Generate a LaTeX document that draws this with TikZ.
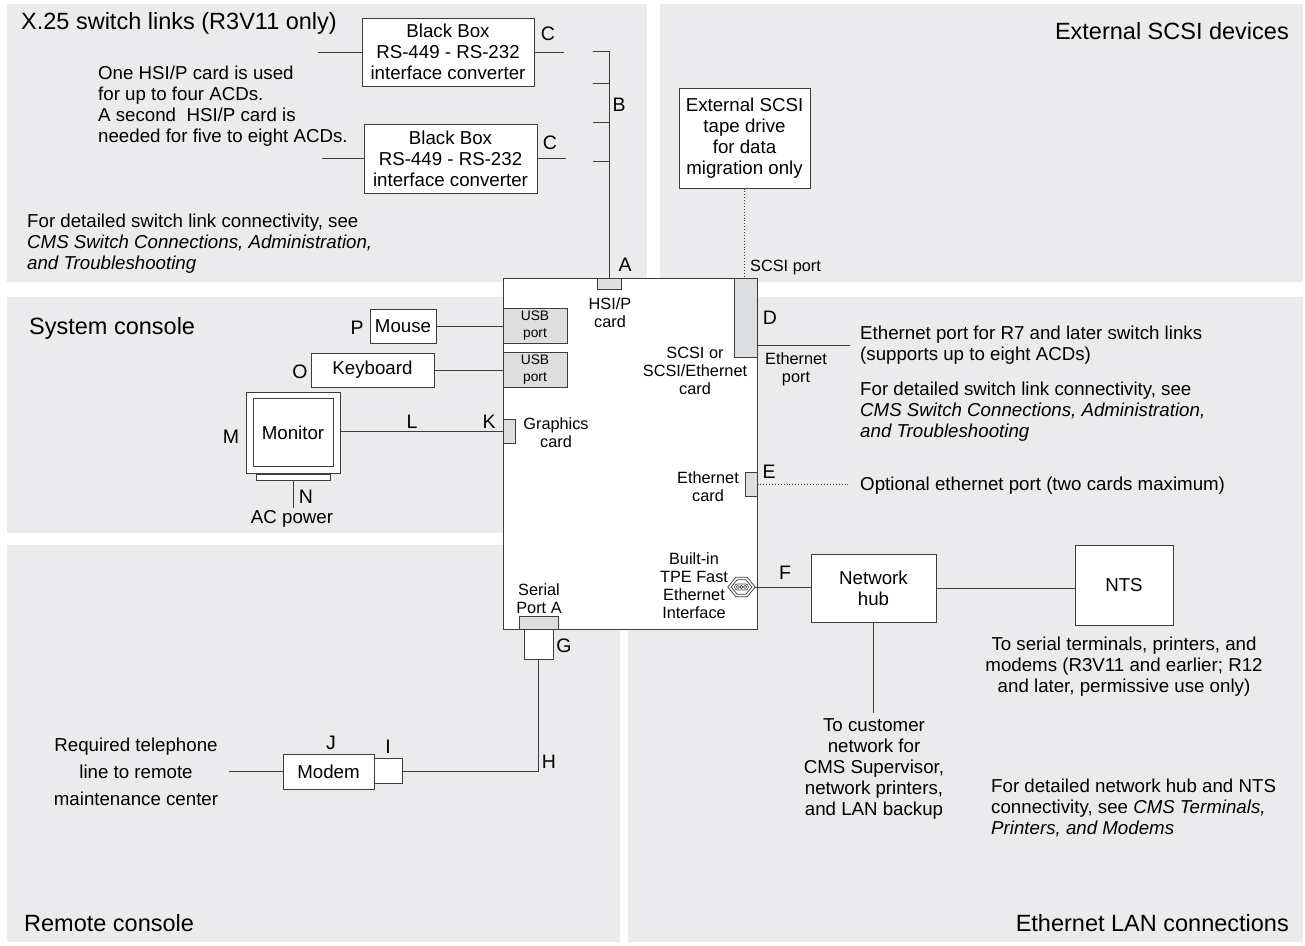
\documentclass[tikz,border=0pt]{standalone}
\usepackage{fontspec}
\setmainfont{Liberation Sans}
\usetikzlibrary{positioning}

\definecolor{panelgray}{RGB}{235,235,237}
\definecolor{portgray}{RGB}{221,222,224}
\definecolor{linegray}{RGB}{60,60,60}

\newcommand{\txttitle}{\fontsize{23.5}{26}\selectfont}
\newcommand{\txtbody}{\fontsize{18.7}{21}\selectfont}
\newcommand{\txtwide}{\fontsize{18.7}{27}\selectfont}
\newcommand{\txtsmall}{\fontsize{16.3}{18}\selectfont}
\newcommand{\txtusb}{\fontsize{13.8}{16.5}\selectfont}
\newcommand{\txtletter}{\fontsize{19.5}{22}\selectfont}

\tikzset{
  devbox/.style={draw=linegray, fill=white, line width=1pt, inner sep=0pt, align=center, font=\txtbody},
  port/.style={draw=linegray, fill=portgray, line width=1pt, inner sep=0pt, align=center, font=\txtusb},
  wire/.style={draw=linegray, line width=1pt},
  dotwire/.style={draw=linegray, line width=0.9pt, dotted},
  letter/.style={font=\txtletter, inner sep=0pt},
  note/.style={font=\txtbody, align=left, inner sep=0pt},
  cardlabel/.style={font=\txtsmall, align=center, inner sep=0pt},
  paneltitle/.style={font=\txttitle, inner sep=0pt}
}

\begin{document}
\begin{tikzpicture}[x=1pt, y=-1pt]
  \useasboundingbox (0,0) rectangle (1305,945);

  % background panels
  \fill[panelgray] (7,4) rectangle (647,282);
  \fill[panelgray] (660,4) rectangle (1303,282);
  \fill[panelgray] (7,297) rectangle (620,533);
  \fill[panelgray] (7,545) rectangle (620,942);
  \fill[panelgray] (628,297) rectangle (1303,942);

  \node[paneltitle, anchor=west] (t25) at (21,23) {X.25 switch links (R3V11 only)};
  \node[paneltitle, anchor=east] (tscsi) at (1289,31) {External SCSI devices};
  \node[paneltitle, anchor=west] (tsys) at (29,328) {System console};
  \node[paneltitle, anchor=west] (tremote) at (24,923) {Remote console};
  \node[paneltitle, anchor=east] (tlan) at (1289,923) {Ethernet LAN connections};

  % the CMS computer and its cards
  \node[devbox, minimum width=254, minimum height=351] (cms) at (630,453.5) {};
  \node[port, minimum width=24, minimum height=11] (hsip) at (609,283.5) {};
  \node[port, minimum width=64, minimum height=35] (usba) at (535,325.5) {USB\\port};
  \node[port, minimum width=64, minimum height=35] (usbb) at (535,369.5) {USB\\port};
  \node[port, minimum width=12, minimum height=24] (gfx) at (509,431) {};
  \node[port, minimum width=23, minimum height=79] (scsi) at (745.5,317.5) {};
  \node[port, minimum width=12, minimum height=24] (ethcard) at (751,484) {};
  \node[port, minimum width=39, minimum height=13] (serial) at (538.5,622.5) {};
  \node[devbox, minimum width=29, minimum height=30] (gplug) at (538.5,644) {};

  \node[cardlabel] (lhsip) at (610,313) {HSI/P\\card};
  \node[cardlabel] (lgfx) at (556,433) {Graphics\\card};
  \node[cardlabel] (lscsi) at (695,371) {SCSI or\\SCSI/Ethernet\\card};
  \node[cardlabel] (leth) at (708,487) {Ethernet\\card};
  \node[cardlabel] (ltpe) at (694,586) {Built-in\\TPE Fast\\Ethernet\\Interface};
  \node[cardlabel] (lserial) at (539,599) {Serial\\Port A};
  \node[cardlabel, anchor=west] (lscsiport) at (750,267) {SCSI port};
  \node[cardlabel] (lethport) at (796,369) {Ethernet\\port};

  % built-in ethernet jack
  \node[minimum width=26, minimum height=18, inner sep=0pt] (tpe) at (741.5,587) {};
  \begin{scope}[shift={(tpe.center)}]
    \draw[linegray, double, double distance=1.6pt, line width=0.9pt]
      (-12,0) -- (-5,-8.5) -- (5,-8.5) -- (12,0) -- (5,8.5) -- (-5,8.5) -- cycle;
    \draw[linegray, line width=0.6pt, rounded corners=2.5pt] (-6.8,-3) rectangle (6.8,3);
    \foreach \dx in {-3.6,0,3.6}
      \draw[linegray, line width=0.6pt] (\dx,0) circle (1.6);
  \end{scope}

  % X.25 switch links
  \node[devbox, minimum width=172, minimum height=68] (bbox1) at (448,52) {Black Box\\RS-449 - RS-232\\interface converter};
  \node[devbox, minimum width=173, minimum height=69] (bbox2) at (450.5,158.5) {Black Box\\RS-449 - RS-232\\interface converter};
  \coordinate (x25a) at (318,52);
  \coordinate (x25b) at (322,158.5);
  \coordinate (cout1) at (564,52);
  \coordinate (cout2) at (566,158.5);
  \coordinate (btop) at (593,51);
  \draw[wire] (x25a) -- (bbox1.west);
  \draw[wire] (x25b) -- (bbox2.west);
  \draw[wire] (bbox1.east) -- (cout1);
  \draw[wire] (bbox2.east) -- (cout2);
  \draw[wire] (btop) -| (hsip.north);
  \foreach \y in {83,122,161}
    \draw[wire] (hsip.north |- 0,\y) -- ++(-16,0);
  \node[note, anchor=west] (hsinote) at (98,106) {One HSI/P card is used\\for up to four ACDs.\\A second\ \ HSI/P card is\\needed for five to eight ACDs.};
  \node[note, anchor=west] (x25ref) at (27,244) {For detailed switch link connectivity, see\\\textit{CMS Switch Connections, Administration,}\\\textit{and Troubleshooting}};

  % external SCSI
  \node[devbox, minimum width=131, minimum height=100] (tape) at (744.5,138) {External SCSI\\tape drive\\for data\\migration only};
  \draw[dotwire] (tape.south) -- (tape.south |- scsi.north);

  % system console
  \node[devbox, minimum width=66, minimum height=34] (mouse) at (403,326) {Mouse};
  \node[devbox, minimum width=123, minimum height=34] (kbd) at (372.5,370) {Keyboard};
  \node[devbox, minimum width=94, minimum height=81] (monitor) at (293,432.5) {};
  \node[devbox, minimum width=80, minimum height=68] (screen) at (293,432.5) {Monitor};
  \node[devbox, minimum width=74, minimum height=6, anchor=north] (stand) at (monitor.south) {};
  \coordinate (acpower) at (293,508);
  \draw[wire] (mouse.east) -- (mouse.east -| usba.west);
  \draw[wire] (kbd.east) -- (kbd.east -| usbb.west);
  \draw[wire] (monitor.east |- gfx.west) -- (gfx.west);
  \draw[wire] (stand.south) -- (acpower);
  \node[note, anchor=north] (acnote) at (292,510) {AC power};

  % remote console
  \node[devbox, minimum width=91, minimum height=35] (modem) at (328.5,771.5) {Modem};
  \node[devbox, minimum width=28, minimum height=25] (iplug) at (388,771) {};
  \coordinate (phone) at (229,771.5);
  \draw[wire] (gplug.south) |- (iplug.east);
  \draw[wire] (phone) -- (modem.west);
  \node[font=\txtwide, align=center, inner sep=0pt] (phonenote) at (136,772) {Required telephone\\line to remote\\maintenance center};

  % switch ethernet
  \coordinate (dend) at (850,345);
  \coordinate (eend) at (850,484);
  \draw[wire] (cms.east |- dend) -- (dend);
  \draw[dotwire] (ethcard.east) -- (eend);
  \node[note, anchor=west] (r7note) at (860,345) {Ethernet port for R7 and later switch links\\(supports up to eight ACDs)};
  \node[note, anchor=west] (ethref) at (860,412) {For detailed switch link connectivity, see\\\textit{CMS Switch Connections, Administration,}\\\textit{and Troubleshooting}};
  \node[note, anchor=west] (optnote) at (860,486) {Optional ethernet port (two cards maximum)};

  % ethernet LAN
  \node[devbox, minimum width=125, minimum height=68] (hub) at (873.5,588) {Network\\hub};
  \node[devbox, minimum width=98, minimum height=80] (nts) at (1124,585) {NTS};
  \coordinate (lan) at (873.5,713);
  \draw[wire] (tpe.east) -- (tpe.east -| hub.west);
  \draw[wire] (hub.east) -- (hub.east -| nts.west);
  \draw[wire] (hub.south) -- (lan);
  \node[note, align=center] (lannote) at (874,769) {To customer\\network for\\CMS Supervisor,\\network printers,\\and LAN backup};
  \node[note, align=center] (ntsnote) at (1124,667) {To serial terminals, printers, and\\modems (R3V11 and earlier; R12\\and later, permissive use only)};
  \node[note, anchor=west] (hubref) at (991,808) {For detailed network hub and NTS\\connectivity, see \textit{CMS Terminals,}\\\textit{Printers, and Modems}};

  % connector letters
  \foreach \n/\t/\x/\y in {a/A/625/265, b/B/619/105, c1/C/548/34, c2/C/550/143,
      d/D/770/318, e/E/769/472, f/F/785/573, g/G/564/646, h/H/549/762,
      i/I/388/747, j/J/331/743, k/K/489/422, l/L/412/422, m/M/231/437,
      n/N/306/497, o/O/300/372, p/P/357/328}
    \node[letter] (let\n) at (\x,\y) {\t};
\end{tikzpicture}
\end{document}
